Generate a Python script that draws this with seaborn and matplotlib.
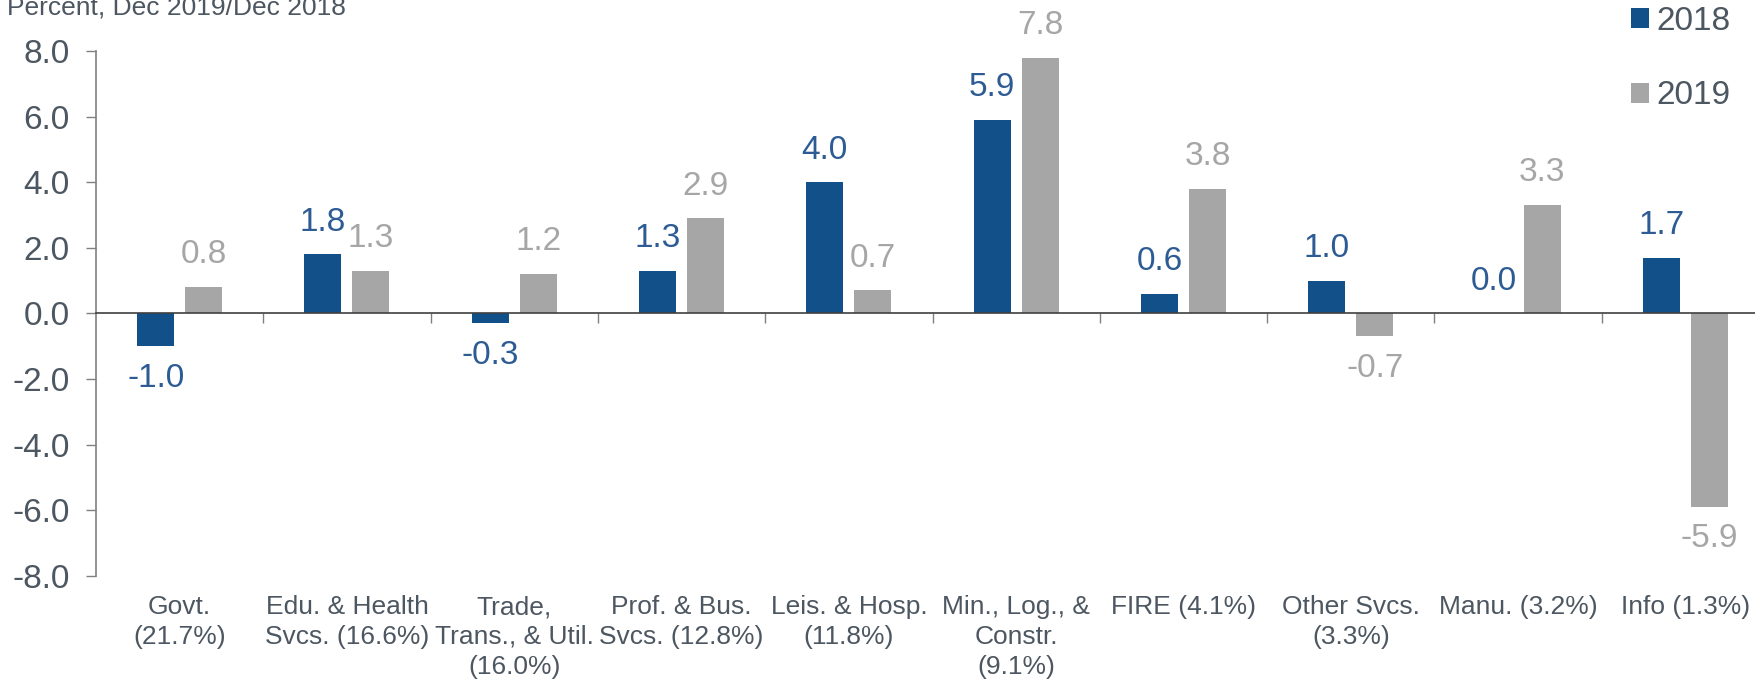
import numpy as np
import pandas as pd
import matplotlib
matplotlib.use("Agg")
import matplotlib.pyplot as plt
import seaborn as sns

# Sectors (share of employment in parentheses)
sectors = [
    "Govt.\n(21.7%)",
    "Edu. & Health\nSvcs. (16.6%)",
    "Trade,\nTrans., & Util.\n(16.0%)",
    "Prof. & Bus.\nSvcs. (12.8%)",
    "Leis. & Hosp.\n(11.8%)",
    "Min., Log., &\nConstr.\n(9.1%)",
    "FIRE (4.1%)",
    "Other Svcs.\n(3.3%)",
    "Manu. (3.2%)",
    "Info (1.3%)",
]
years = ["2018", "2019"]
growth_2018 = [-1.0, 1.8, -0.3, 1.3, 4.0, 5.9, 0.6, 1.0, 0.0, 1.7]
growth_2019 = [0.8, 1.3, 1.2, 2.9, 0.7, 7.8, 3.8, -0.7, 3.3, -5.9]

blue = "#125089"
blue_txt = "#2d5b93"
gray = "#a6a6a6"
text_col = "#4d5761"

df = pd.DataFrame({
    "sector": sectors * 2,
    "year": [years[0]] * len(sectors) + [years[1]] * len(sectors),
    "value": growth_2018 + growth_2019,
})

sns.set_style("white")
plt.rcParams["font.family"] = ["Liberation Sans", "DejaVu Sans"]

fig = plt.figure(figsize=(17.56, 6.83), dpi=100)
ax = fig.add_axes([96 / 1756, 1 - 575.7 / 683, 1673 / 1756, (575.7 - 51) / 683])

sns.barplot(data=df, x="sector", y="value", hue="year", palette=[blue, gray],
            width=0.574, gap=0.23, linewidth=0, saturation=1, ax=ax)

handles, labels = ax.get_legend_handles_labels()
ax.get_legend().remove()

for cont, col in zip(ax.containers, [blue_txt, gray]):
    ax.bar_label(cont, fmt="%.1f", padding=12, color=col, fontsize=24)

ax.set_ylim(-8, 8)
ax.set_xlim(-0.5, len(sectors) - 0.5)
ax.set_yticks(np.arange(-8, 9, 2))
ax.set_yticklabels([f"{v:.1f}" for v in np.arange(-8, 9, 2)])
ax.tick_params(axis="y", labelsize=24, labelcolor=text_col, direction="out",
               length=7, width=1, color="#808080", left=True, pad=12)
ax.set_xlabel("")
ax.set_ylabel("")

for s in ["top", "right"]:
    ax.spines[s].set_visible(False)
ax.spines["left"].set_color("#808080")
ax.spines["left"].set_linewidth(1.2)
ax.spines["bottom"].set_position(("data", 0))
ax.spines["bottom"].set_color("#404040")
ax.spines["bottom"].set_linewidth(1.2)

# boundary ticks on the zero line
ax.set_xticks(np.arange(0.5, len(sectors) - 0.5, 1), minor=True)
ax.tick_params(axis="x", which="major", length=0, labelbottom=False, bottom=False)
ax.tick_params(axis="x", which="minor", length=7, width=1, color="#808080",
               direction="out", bottom=True)

# category labels at the bottom
sec = ax.secondary_xaxis(0)
sec.set_xticks(range(len(sectors)), sectors)
sec.tick_params(axis="x", length=0, pad=14, labelsize=19, labelcolor=text_col)
sec.spines["bottom"].set_visible(False)
for t in sec.get_xticklabels():
    t.set_linespacing(1.3)

fig.text(7 / 1756, 1 - 14 / 683, "Percent, Dec 2019/Dec 2018", fontsize=19,
         color=text_col, va="baseline", ha="left")

fig.legend(handles, labels, loc="upper left", bbox_to_anchor=(1631 / 1756, 1 - 6 / 683),
           frameon=False, fontsize=24, labelcolor=text_col, handlelength=0.55,
           handleheight=0.55, handletextpad=0.2, labelspacing=1.3, borderpad=0,
           borderaxespad=0)

fig.savefig("out.png", dpi=100)
